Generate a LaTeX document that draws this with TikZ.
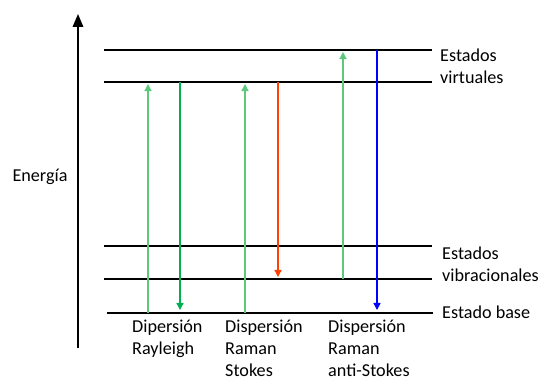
\documentclass[tikz,border=0pt]{standalone}
\usepackage{fontspec}
\setmainfont{Carlito}
\usetikzlibrary{arrows.meta}
\definecolor{lgreen}{RGB}{0,176,80}
\definecolor{pgreen}{RGB}{90,200,125}
\definecolor{lred}{RGB}{255,64,0}
\definecolor{lblue}{RGB}{0,0,255}

\begin{document}
\begin{tikzpicture}[x=0.03cm, y=-0.03cm,
  level/.style={line width=1pt},
  tr/.style={line width=1.1pt, -{Triangle[width=6pt,length=6pt]}},
  lab/.style={anchor=west, inner sep=0pt, font=\fontsize{15.5}{18.5}\selectfont},
  txt/.style={anchor=north west, inner sep=0pt, align=left, font=\fontsize{15.5}{18.5}\selectfont}
]
\useasboundingbox (0,0) rectangle (540,379);

%% eje
\coordinate (e0) at (78,348);
\coordinate (e1) at (78,14);
\draw[line width=1.3pt, -{Triangle[width=9pt,length=11pt]}] (e0) -- (e1);
\node[lab, anchor=center] (energia) at (40,177) {Energía};

%% niveles
\coordinate (v1a) at (104,50);  \coordinate (v1b) at (432,50);
\coordinate (v2a) at (104,82);  \coordinate (v2b) at (432,82);
\coordinate (b1a) at (104,246); \coordinate (b1b) at (432,246);
\coordinate (b2a) at (104,279); \coordinate (b2b) at (432,279);
\coordinate (b0a) at (107,313); \coordinate (b0b) at (433,313);
\draw[level] (v1a) -- (v1b);
\draw[level] (v2a) -- (v2b);
\draw[level] (b1a) -- (b1b);
\draw[level] (b2a) -- (b2b);
\draw[level] (b0a) -- (b0b);

\node[lab] (ev1) at (440,55) {Estados};
\node[lab] (ev2) at (440,77) {virtuales};
\node[lab] (eb1) at (442,253) {Estados};
\node[lab] (eb2) at (442,275) {vibracionales};
\node[lab] (eb0) at (442,312) {Estado base};

%% Rayleigh
\coordinate (ra0) at (148,313); \coordinate (ra1) at (148,84);
\coordinate (rb0) at (180,82);  \coordinate (rb1) at (180,310);
\draw[tr, pgreen] (ra0) -- (ra1);
\draw[tr, lgreen] (rb0) -- (rb1);

%% Stokes
\coordinate (sa0) at (245,313); \coordinate (sa1) at (245,84);
\coordinate (sb0) at (278,82);  \coordinate (sb1) at (278,277);
\draw[tr, pgreen] (sa0) -- (sa1);
\draw[tr, lred] (sb0) -- (sb1);

%% anti-Stokes
\coordinate (aa0) at (343,279); \coordinate (aa1) at (343,52);
\coordinate (ab0) at (377,50);  \coordinate (ab1) at (377,310);
\draw[tr, pgreen] (aa0) -- (aa1);
\draw[tr, lblue] (ab0) -- (ab1);

%% textos
\node[txt] (tr) at (132,320) {Dipersión\\Rayleigh};
\node[txt] (ts) at (225,320) {Dispersión\\Raman\\Stokes};
\node[txt] (ta) at (328,320) {Dispersión\\Raman\\anti-Stokes};
\end{tikzpicture}
\end{document}
